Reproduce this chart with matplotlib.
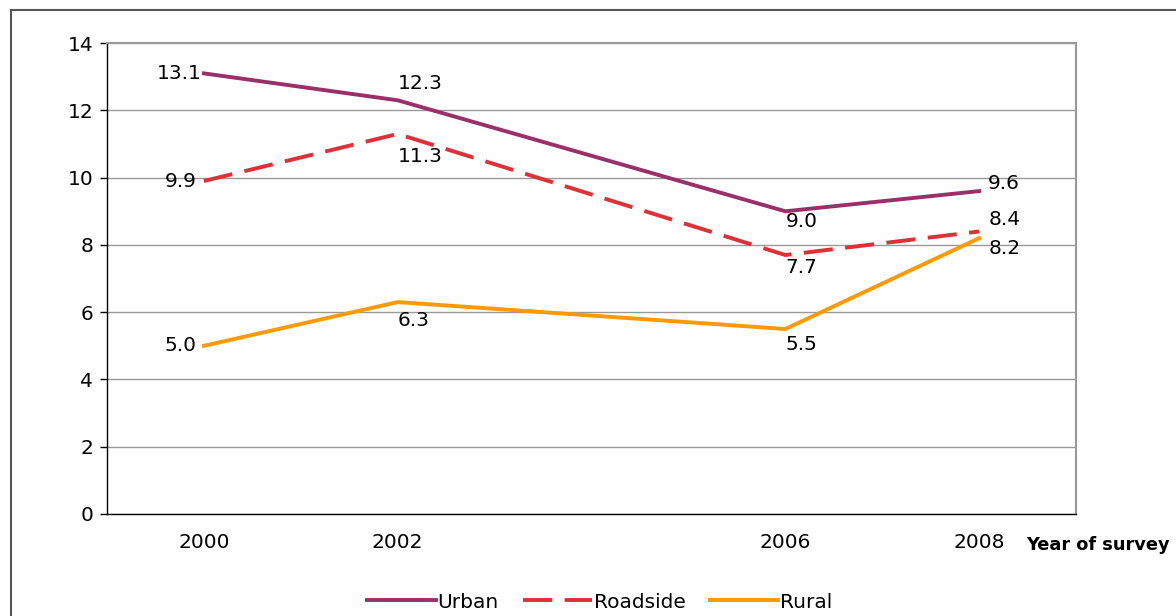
import matplotlib.pyplot as plt
from matplotlib.patches import Rectangle

# 数据
years = [2000, 2002, 2006, 2008]
urban = [13.1, 12.3, 9.0, 9.6]
roadside = [9.9, 11.3, 7.7, 8.4]
rural = [5.0, 6.3, 5.5, 8.2]
yticks = [0, 2, 4, 6, 8, 10, 12, 14]

plt.rcParams['font.family'] = ['DejaVu Sans']
fig = plt.figure(figsize=(11.76, 6.16), dpi=100)
ax = fig.add_axes([0.091, 0.1656, 0.824, 0.7644])

# 外框
fig.patches.append(Rectangle((11 / 1176, -0.05), 1.2, 1 - 10 / 616 + 0.05,
                             transform=fig.transFigure, fill=False,
                             edgecolor='#555555', linewidth=1.5))

lw = 2.8
ax.plot(years, urban, color='#9B3069', lw=lw, label='Urban')
ax.plot(years, roadside, color='#E03035', lw=lw, dashes=(7.5, 3.2), label='Roadside')
ax.plot(years, rural, color='#FF9900', lw=lw, label='Rural')

fs = 14.5
# 数据标签: (dx, dy, ha) 以像素偏移
offs_u = [(-2, 2, 'right'), (0, 19, 'left'), (0, -8, 'left'), (9, 10, 'left')]
offs_r = [(-7, 2, 'right'), (0, -21, 'left'), (0, -10, 'left'), (9, 14, 'left')]
offs_ru = [(-7, 2, 'right'), (0, -16, 'left'), (0, -13, 'left'), (9, -8, 'left')]
for series, offs in [(urban, offs_u), (roadside, offs_r), (rural, offs_ru)]:
    for x, v, (dx, dy, ha) in zip(years, series, offs):
        ax.annotate('%.1f' % v, (x, v), xytext=(dx, dy), textcoords='offset pixels',
                    ha=ha, va='center_baseline', fontsize=fs)

ax.set_xlim(1999, 2009)
ax.set_ylim(0, 14)
ax.set_yticks(yticks)
ax.set_xticks(years)
ax.tick_params(axis='y', labelsize=fs, length=5, direction='out', width=1, pad=5)
ax.tick_params(axis='x', labelsize=fs, length=0, pad=14)
ax.grid(axis='y', color='#999999', lw=1)
ax.set_axisbelow(True)
for s in ['top', 'right']:
    ax.spines[s].set_color('#999999')
    ax.spines[s].set_linewidth(1.5)
for s in ['left', 'bottom']:
    ax.spines[s].set_color('black')
    ax.spines[s].set_linewidth(1)

fig.text(1026 / 1176, 1 - 545 / 616, 'Year of survey', fontsize=12.8, fontweight='bold',
         ha='left', va='center')

fig.legend(loc='center', bbox_to_anchor=(0.51, 1 - 602 / 616), ncol=3, frameon=False,
           fontsize=fs, handlelength=3.4, handletextpad=0.1, columnspacing=1.2)

fig.savefig('out.png', dpi=100)
